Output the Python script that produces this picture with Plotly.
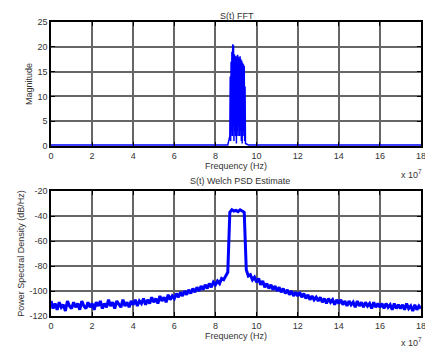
import numpy as np
import plotly.graph_objects as go

# ---- Data ----
fft_band_freq = np.round(np.arange(8.70, 9.461, 0.02), 2).tolist()
fft_band_mag = [2, 14, 1, 17, 3, 19, 2, 20.5, 4, 20.3,
                1, 18.5, 3, 18, 2, 18.2, 0.5, 17.8, 3, 18.4,
                2, 18, 4, 17.6, 2, 18.1, 3, 17.5, 1, 17.2,
                0.5, 16.8, 2, 16.5, 3, 16.2, 1, 12, 0.5]
fft_freq = [0, 8.6] + fft_band_freq + [9.6, 18]
fft_mag = [0.2, 0.2] + fft_band_mag + [0.2, 0.2]

psd_freq = np.round(np.arange(0, 18.001, 0.1), 1).tolist()
psd_db = [
    -108, -114, -110, -115, -109, -113, -111, -116, -108, -112,
    -114, -109, -113, -110, -115, -108, -112, -114, -109, -113,
    -110, -115, -109, -112, -108, -114, -110, -113, -107, -112,
    -109, -114, -108, -111, -113, -107, -112, -109, -113, -108,
    -111, -107, -112, -108, -110, -106, -111, -107, -110, -105,
    -109, -106, -110, -104, -108, -105, -109, -103, -107, -104,
    -106, -102, -105, -101, -104, -100, -103, -99, -102, -98,
    -101, -97, -100, -96, -99, -95, -98, -94, -97, -93,
    -95, -92, -94, -90, -91, -88, -85,
    -37, -35, -36, -35.5, -36.5, -35, -36, -37,
    -83, -88, -87, -91, -89,
    -93, -90, -95, -92, -97, -94, -98, -95, -99, -96,
    -100, -97, -101, -98, -102, -99, -103, -100, -104, -101,
    -104, -101, -105, -102, -106, -103, -107, -104, -107, -105,
    -108, -105, -109, -106, -110, -106, -109, -107, -111, -107,
    -110, -107, -111, -108, -112, -108, -111, -109, -113, -108,
    -112, -109, -113, -109, -112, -110, -114, -109, -113, -110,
    -113, -110, -114, -110, -113, -111, -115, -110, -114, -111,
    -114, -111, -115, -110, -114, -112, -116, -111, -115, -112,
    -114,
]
x_ticks = [0, 2, 4, 6, 8, 10, 12, 14, 16, 18]
top_y_ticks = [0, 5, 10, 15, 20, 25]
bot_y_ticks = [-120, -100, -80, -60, -40, -20]

W, H = 425, 350
def px(x):
    return x / W
def py(y):
    return 1 - y / H

fig = go.Figure()
fig.add_trace(go.Scatter(x=fft_freq, y=fft_mag, mode="lines",
                         line=dict(color="#0000ff", width=1.5),
                         xaxis="x", yaxis="y", showlegend=False))
fig.add_trace(go.Scatter(x=psd_freq, y=psd_db, mode="lines",
                         line=dict(color="#0000ff", width=3),
                         xaxis="x2", yaxis="y2", showlegend=False))

font = dict(family="Liberation Sans, Arial, sans-serif", size=9, color="#333")
common_x = dict(range=[0, 18], tickvals=x_ticks, ticktext=[str(v) for v in x_ticks],
                showline=True, linecolor="black", linewidth=1.5, mirror="ticks",
                ticks="inside", ticklen=4, tickcolor="black", automargin=False,
                ticklabeloverflow="allow",
                showgrid=True, gridcolor="#666", gridwidth=1.5, zeroline=False,
                tickfont=font, domain=[px(51), px(421)])
common_y = dict(showline=True, linecolor="black", linewidth=1.5, mirror="ticks",
                ticks="inside", ticklen=4, tickcolor="black", automargin=False,
                showgrid=True, gridcolor="#666", gridwidth=1.5, zeroline=False,
                tickfont=font)

fig.update_layout(
    width=W, height=H, margin=dict(l=0, r=0, t=0, b=0, autoexpand=False),
    paper_bgcolor="white", plot_bgcolor="white", font=font,
    xaxis=dict(common_x, anchor="y",
               title=dict(text="Frequency (Hz)", font=font, standoff=2)),
    yaxis=dict(common_y, range=[0, 25], tickvals=top_y_ticks,
               ticktext=[str(v) for v in top_y_ticks], anchor="x",
               domain=[py(146), py(22)],
               title=dict(text="Magnitude", font=font, standoff=3)),
    xaxis2=dict(common_x, anchor="y2",
                title=dict(text="Frequency (Hz)", font=font, standoff=2)),
    yaxis2=dict(common_y, range=[-120, -20], tickvals=bot_y_ticks,
                ticktext=[str(v) for v in bot_y_ticks], anchor="x2",
                domain=[py(316), py(191)],
                title=dict(text="Power Spectral Density (dB/Hz)", font=font, standoff=3)),
    annotations=[
        dict(text="S(t) FFT", x=px(237), y=py(9), xref="paper", yref="paper",
             showarrow=False, font=font),
        dict(text="S(t) Welch PSD Estimate", x=px(240), y=py(181), xref="paper",
             yref="paper", showarrow=False, font=font),
        dict(text="x 10<sup>7</sup>", x=px(424), y=py(174), xref="paper", yref="paper",
             xanchor="right", showarrow=False, font=font),
        dict(text="x 10<sup>7</sup>", x=px(424), y=0, xref="paper", yref="paper",
             xanchor="right", yanchor="bottom", showarrow=False, font=font),
    ],
)

fig.write_html("out.html", config={"displayModeBar": False},
               post_script="document.body.style.margin='0';document.body.style.padding='0';")
